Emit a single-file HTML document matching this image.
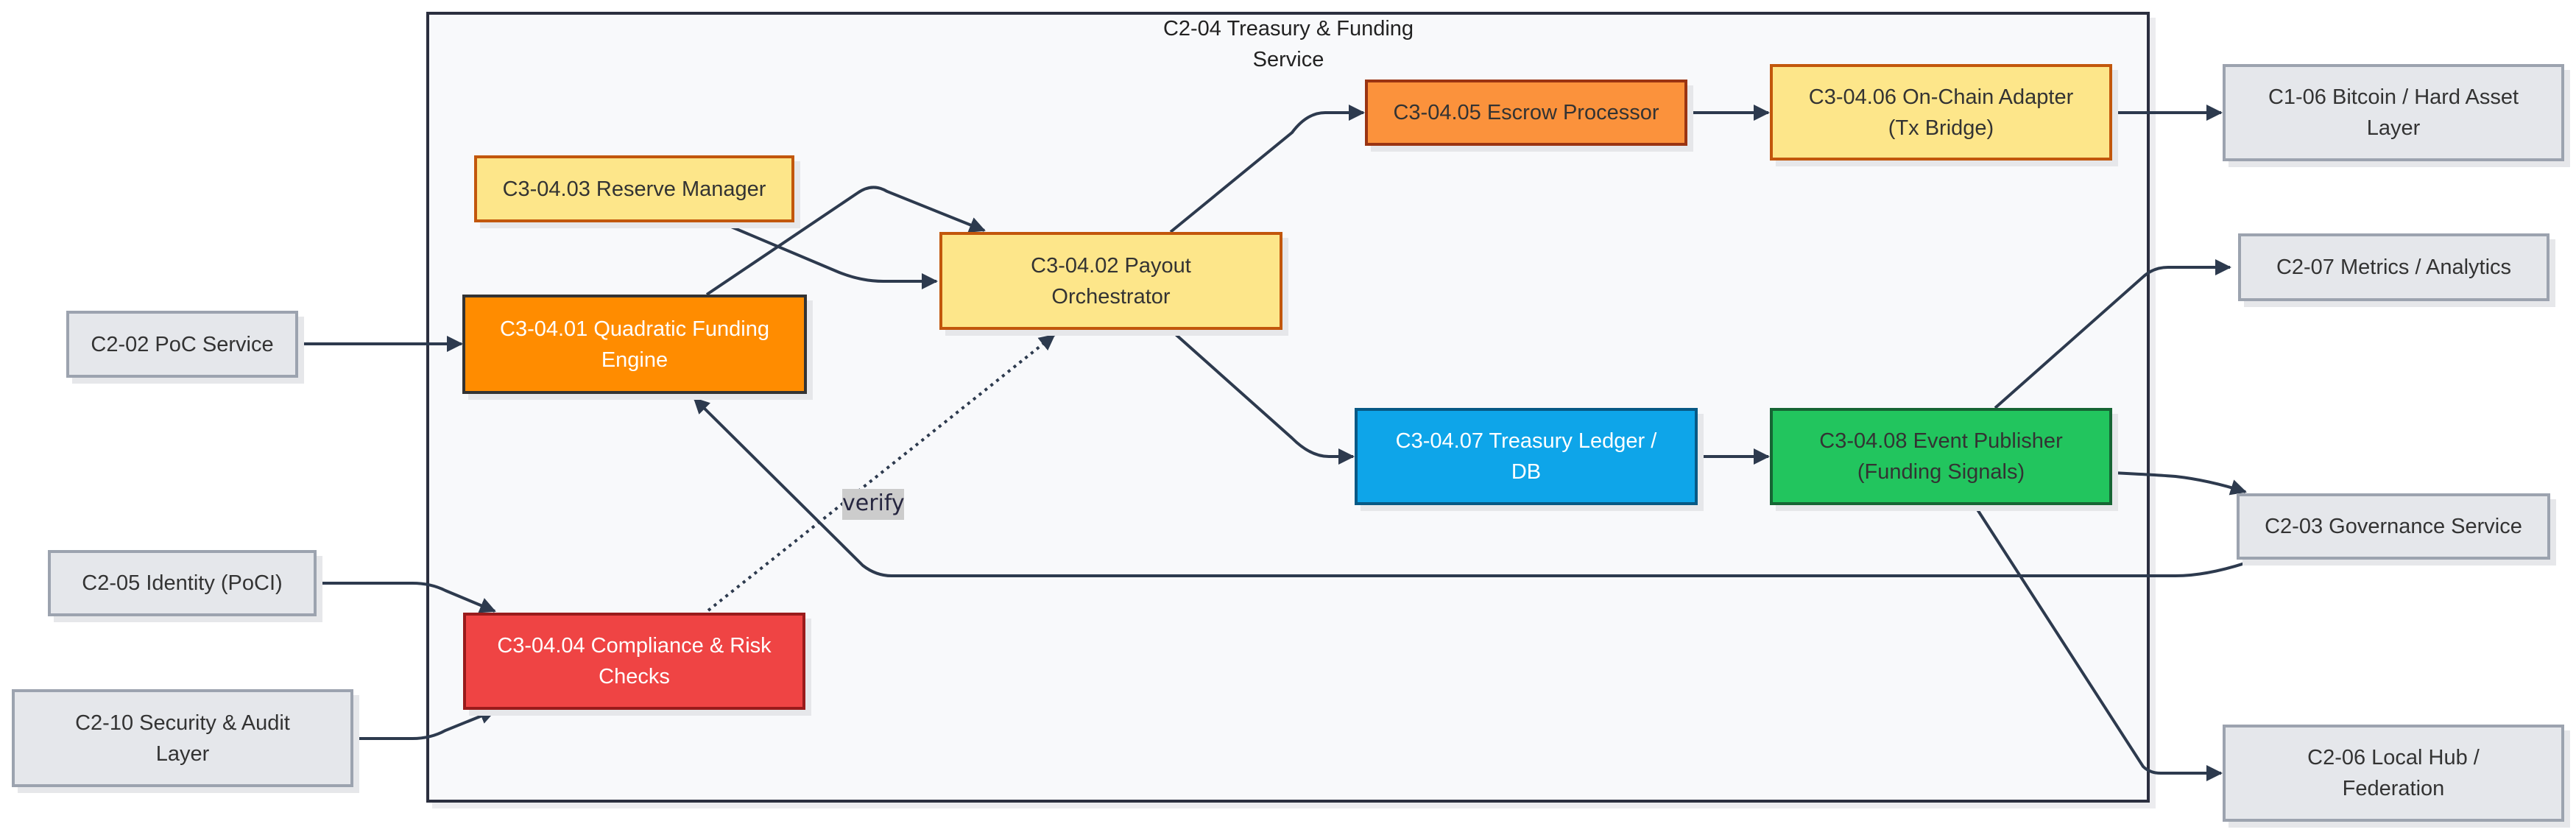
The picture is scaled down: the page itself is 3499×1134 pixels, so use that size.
<!DOCTYPE html>
<html><head><meta charset="utf-8"><style>
html,body{margin:0;padding:0;background:#fff;}
body{width:3499px;height:1134px;position:relative;overflow:hidden;font-family:"Liberation Sans",sans-serif;}
.c{position:absolute;left:579px;top:16px;width:2341px;height:1074px;box-sizing:border-box;border:4px solid #2b2f3f;background:#f8f9fb;box-shadow:8px 8px 0 #ececef;}
.t{position:absolute;left:1550px;top:18px;width:400px;text-align:center;font-size:29px;line-height:42px;color:#222;}
.n{position:absolute;box-sizing:border-box;border:4px solid;display:flex;align-items:center;justify-content:center;text-align:center;font-size:29px;line-height:42px;color:#333;box-shadow:8px 8px 0 #e6e7ea;}
.g{background:#e5e7eb;border-color:#9ca3af;}
.y{background:#fde68a;border-color:#c2570c;}
svg{position:absolute;left:0;top:0;}
.v{position:absolute;left:1144px;top:664px;width:84px;height:42px;background:#ccc;font-family:"DejaVu Sans",sans-serif;font-size:30px;line-height:40px;text-align:center;color:#262640;}
</style></head><body>
<div class="c"></div>
<div class="t">C2-04 Treasury &amp; Funding<br>Service</div>
<svg width="3499" height="1134" viewBox="0 0 3499 1134">
<defs><marker id="a" markerUnits="userSpaceOnUse" markerWidth="22" markerHeight="22" refX="20" refY="11" orient="auto"><path d="M0,0 L22,11 L0,22 z" fill="#2d3a4e"/></marker></defs>
<g fill="none" stroke="#2d3a4e" stroke-width="4" marker-end="url(#a)">
<path d="M405,467 L627,467"/>
<path d="M430,792 L560,792 Q585,792 605,802 L672,830"/>
<path d="M480,1003 L560,1003 Q585,1003 605,992 L672,965"/>
<path d="M979,302 L1140,370 Q1170,382 1200,382 L1272,382"/>
<path d="M960,400 L1165,262 Q1185,248 1205,260 L1337,313"/>
<path d="M962,829 Q1200,640 1432,455" stroke-dasharray="4 6"/>
<path d="M3061,761 Q3000,782 2955,782 L1211,782 Q1190,782 1172,768 L943,541"/>
<path d="M1590,315 L1755,180 Q1775,153 1800,153 L1852,153"/>
<path d="M2292,153 L2402,153"/>
<path d="M2869,153 L3017,153"/>
<path d="M1590,448 L1755,595 Q1780,620 1805,620 L1838,620"/>
<path d="M2306,620 L2402,620"/>
<path d="M2710,554 L2911,376 Q2925,363 2945,363 L3029,363"/>
<path d="M2869,642 Q2930,645 2955,647 Q3000,652 3050,668"/>
<path d="M2682,686 L2911,1041 Q2920,1050 2935,1050 L3017,1050"/>
</g>
</svg>
<div class="v">verify</div>
<div class="n y" style="left:644px;top:211px;width:435px;height:91px;">C3-04.03 Reserve Manager</div>
<div class="n" style="left:628px;top:400px;width:468px;height:135px;background:#ff8c00;border-color:#333;color:#fff;">C3-04.01 Quadratic Funding<br>Engine</div>
<div class="n y" style="left:1276px;top:315px;width:466px;height:133px;">C3-04.02 Payout<br>Orchestrator</div>
<div class="n" style="left:629px;top:832px;width:465px;height:132px;background:#ef4444;border-color:#991b1b;color:#fff;">C3-04.04 Compliance &amp; Risk<br>Checks</div>
<div class="n g" style="left:90px;top:422px;width:315px;height:91px;">C2-02 PoC Service</div>
<div class="n g" style="left:65px;top:747px;width:365px;height:90px;">C2-05 Identity (PoCI)</div>
<div class="n g" style="left:16px;top:936px;width:464px;height:133px;">C2-10 Security &amp; Audit<br>Layer</div>
<div class="n" style="left:1854px;top:108px;width:438px;height:90px;background:#fb923c;border-color:#9a3412;">C3-04.05 Escrow Processor</div>
<div class="n y" style="left:2404px;top:87px;width:465px;height:131px;">C3-04.06 On-Chain Adapter<br>(Tx Bridge)</div>
<div class="n" style="left:1840px;top:554px;width:466px;height:132px;background:#0ea5e9;border-color:#075985;color:#fff;">C3-04.07 Treasury Ledger /<br>DB</div>
<div class="n" style="left:2404px;top:554px;width:465px;height:132px;background:#22c55e;border-color:#166534;">C3-04.08 Event Publisher<br>(Funding Signals)</div>
<div class="n g" style="left:3019px;top:87px;width:464px;height:132px;">C1-06 Bitcoin / Hard Asset<br>Layer</div>
<div class="n g" style="left:3040px;top:317px;width:423px;height:92px;">C2-07 Metrics / Analytics</div>
<div class="n g" style="left:3038px;top:670px;width:426px;height:90px;">C2-03 Governance Service</div>
<div class="n g" style="left:3019px;top:984px;width:464px;height:132px;">C2-06 Local Hub /<br>Federation</div>
</body></html>
